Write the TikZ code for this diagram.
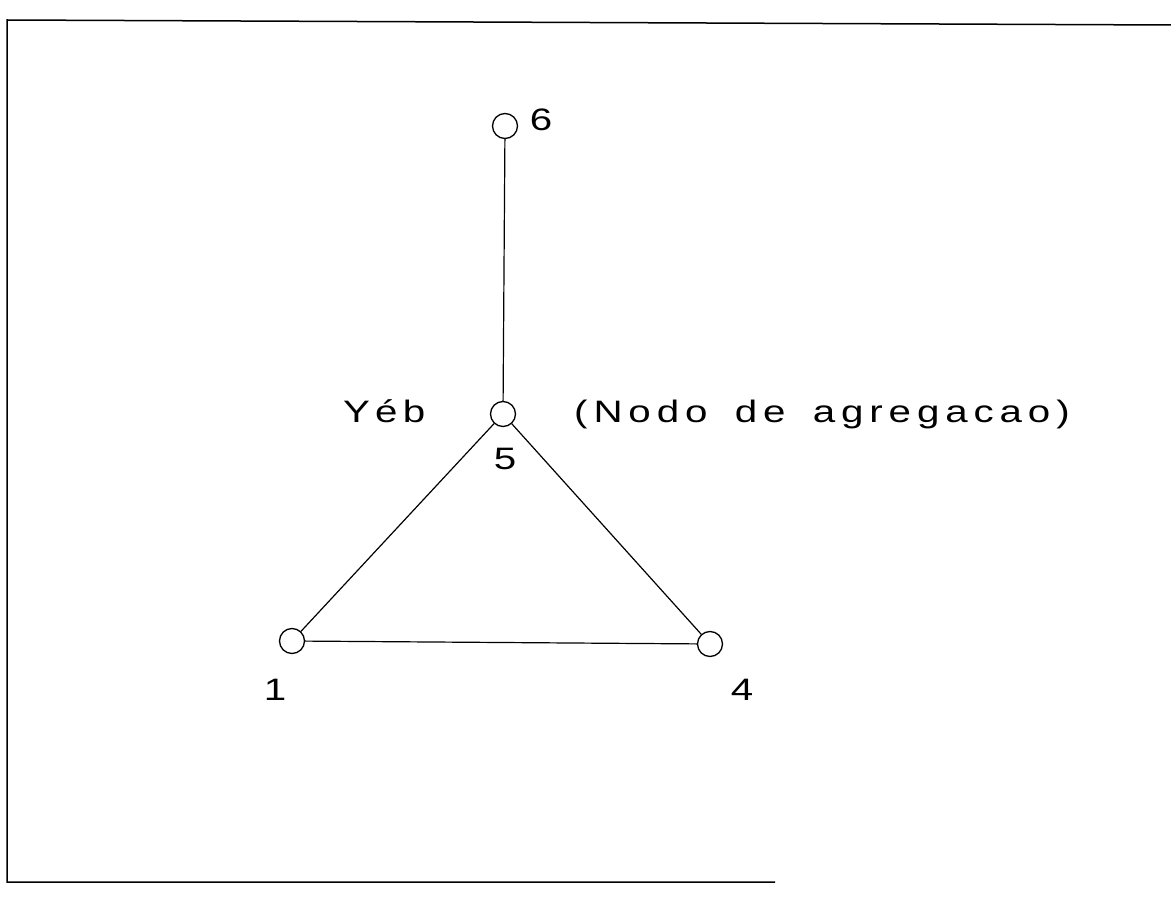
\documentclass[tikz,border=0pt]{standalone}
\usepackage{fontspec}
\setmainfont{Liberation Sans}
\newfontfamily\plotfont[LetterSpace=19,FakeStretch=1.3,WordSpace=1.6]{Liberation Sans}
\begin{document}
\begin{tikzpicture}[x=1pt,y=-1pt,
  vert/.style={draw,circle,inner sep=0pt,minimum size=25pt,line width=1.3pt},
  edge/.style={line width=1.2pt},
  lbl/.style={font=\plotfont\fontsize{31}{34}\selectfont,inner sep=0pt,anchor=base},
  frame/.style={line width=1.5pt}]
\useasboundingbox (0,0) rectangle (1171,917);
\coordinate (ftl) at (7,20);
\coordinate (ftr) at (1171,25);
\coordinate (fbl) at (7,882);
\coordinate (fbr) at (775,882);
\draw[frame] (ftr) -- (ftl) -- (fbl) -- (fbr);
\node[vert] (n6) at (505,126) {};
\node[vert] (n5) at (503,414) {};
\node[vert] (n1) at (292,641) {};
\node[vert] (n4) at (710,644) {};
\draw[edge] (n6) -- (n5);
\draw[edge] (n5) -- (n1);
\draw[edge] (n5) -- (n4);
\draw[edge] (n1) -- (n4);
\node[lbl] (l6) at (541,131) {6};
\node[lbl] (l5) at (505,469) {5};
\node[lbl] (l1) at (275,700) {1};
\node[lbl] (l4) at (742,700) {4};
\node[lbl,anchor=base west] (lyeb) at (343,423) {Y\,é\,b};
\node[lbl,anchor=base west] (lnodo) at (574,423) {(Nodo de agregacao)};
\end{tikzpicture}
\end{document}
